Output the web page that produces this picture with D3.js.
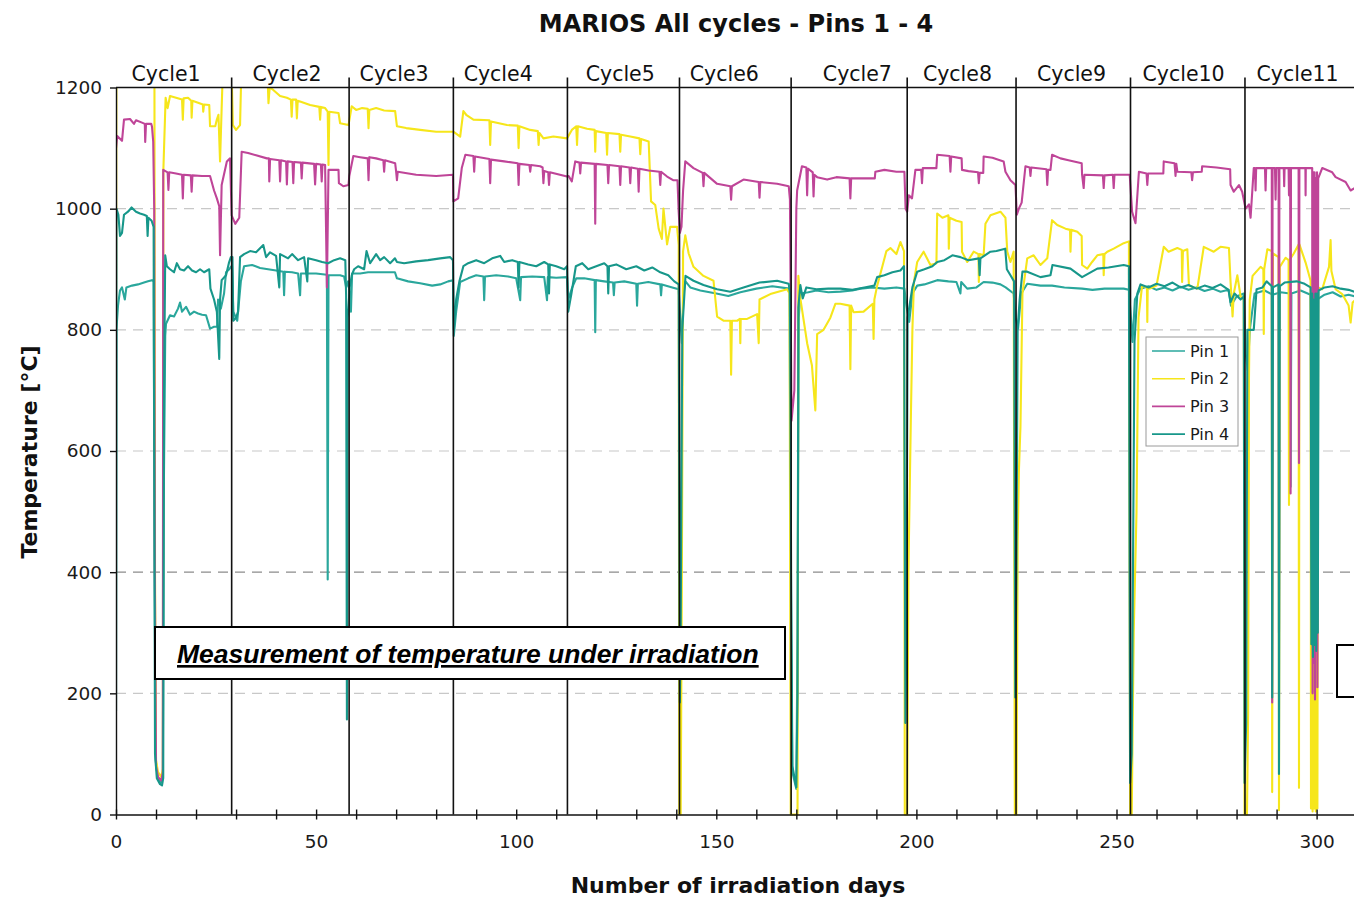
<!DOCTYPE html>
<html>
<head>
<meta charset="utf-8">
<script src="https://cdn.jsdelivr.net/npm/d3@7"></script>
<style>
  html, body { margin: 0; padding: 0; background: #fff; }
  svg { display: block; }
</style>
</head>
<body>
<div id="chart"></div>
<script>
/////////////////////////////////////////
//////////////// DATA ///////////////////
/////////////////////////////////////////

// [irradiation day, temperature °C]
const pin1Data = [
[0,170],[0.1,800],[0.5,840],[1.0,865],[1.5,870],[2.2,850],[2.6,870],[4.0,873],[5.5,875],[7.0,878],[8.0,880],[9.0,882],[9.4,880],
[9.6,500],[9.9,90],[10.5,58],[11.2,52],[11.7,65],[11.9,500],[12.3,790],
[12.5,810],[13.5,824],[14.5,822],[15.5,835],[16.0,845],[16.5,830],[17.5,838],[18.5,825],[19.5,830],[20.5,827],[21.5,825],[22.5,824],[23.5,802],[24.5,805],[25.3,805],[25.5,850],[26.2,835],[27.0,860],[27.5,895],[28.3,900],[28.8,905],
[29.0,905],[29.3,830],[30.3,815],[31.2,880],[32.0,905],[34.0,907],[36.0,902],[38.0,900],[40.0,898],[41.8,896],[42.0,857],[42.2,896],[44.0,895],[45.5,893],[46.0,857],[46.2,893],[48.0,893],[50.0,893],[52.7,891],[52.9,388],[53.1,890],[54.0,890],[56.0,890],[57.0,888],[57.5,870],[58.0,880],
[58.4,860],[58.7,830],[59.0,893],[61.0,893],[63.0,895],[65.0,895],[67.0,895],[69.7,895],[70.2,885],[73.0,880],[76.0,877],[79.0,873],[81.0,875],[83.0,880],[84.2,882],
[84.4,790],[85.0,830],[86.0,879],[88.0,885],[90.0,890],[91.8,888],[92.0,849],[92.2,888],[95.0,890],[98.0,888],[100.0,885],[101.0,849],[101.2,887],[104.0,888],[107.0,887],[107.7,849],[107.9,887],[110.0,886],[112.7,887],
[113.0,850],[114.0,870],[115.0,885],[117.0,885],[119.6,882],[119.75,796],[119.9,882],[122.0,880],[124.2,878],[124.4,857],[124.6,878],[127.0,880],[130.0,876],[130.2,840],[130.4,876],[133.0,879],[136.0,875],[136.2,857],[136.4,875],[139.0,870],[140.6,867],[141.0,820],[141.4,778],[141.8,860],
[142.3,880],[143.5,870],[146.0,865],[150.0,860],[153.0,856],[156.0,862],[160.0,868],[164.0,872],[168.3,868],
[168.7,300],[169.0,70],[170.0,42],[170.3,300],[170.6,820],[171.0,860],[173.0,862],[175.0,865],[178.0,862],[181.0,863],[184.0,865],[186.0,868],[189.0,870],[192.0,868],[195.0,870],[197.0,868],
[197.5,840],[198.2,813],[199.0,860],[200.2,873],[202.0,875],[205.2,882],[208.0,880],[210.0,879],[211.0,860],[211.2,879],[212.7,868],[215.0,870],[216.8,879],[219.0,878],[221.0,875],[222.3,870],[224.3,860],
[224.8,820],[225.4,802],[226.2,860],[227.7,876],[231.0,873],[233.9,873],[237.0,870],[241.4,868],[244.0,866],[247.0,868],[251.8,868],[253.1,866],
[253.6,820],[254.0,780],[254.6,850],[256.0,868],[258.0,872],[260.0,866],[262.0,870],[264.0,865],[266.0,871],[268.0,866],[270.0,870],[272.0,864],[274.0,868],[276.0,863],[278.0,866],[278.6,840],[280.0,855],[281.8,860],
[282.3,760],[282.8,733],[283.3,800],[284.5,860],[287.0,865],[289.0,858],[291.0,862],[293.3,860],[293.5,541],[293.7,860],[296.0,865],[298.5,858],[299.0,420],[299.3,850],[299.8,380],[300.1,850],[302.0,858],[304.0,862],[306.0,855],[308.0,858],[309.8,855]
];

const pin2Data = [
[0,800],[0.1,1250],[9.6,1250],[9.75,400],[10.0,90],[10.5,70],[11.3,62],[11.7,75],[11.85,1067],[12.4,1183],[12.9,1166],[13.5,1186],[15.0,1183],[16.5,1180],[16.7,1147],[16.9,1182],[18.0,1183],[18.8,1178],[18.9,1150],[19.1,1178],[20.5,1175],[21.7,1172],[21.8,1160],[22.0,1172],[23.3,1171],[23.5,1136],[24.8,1136],[25.2,1147],[25.6,1155],[26.0,1078],[26.4,1166],[26.8,1250],[28.8,1250],
[29.2,1138],[30.0,1130],[31.0,1138],[31.4,1250],[37.7,1250],[38.1,1174],[38.4,1200],[39.3,1196],[41.0,1186],[42.7,1183],[43.7,1180],[43.9,1152],[44.1,1180],[45.0,1180],[45.2,1149],[45.4,1178],[46.0,1177],[48.5,1171],[50.8,1168],[51.0,1147],[51.2,1168],[52.25,1166],[52.9,1160],[53.1,1072],[53.3,1160],[55.6,1158],[56.0,1141],[58.1,1138],
[58.9,1169],[60.0,1163],[61.5,1166],[62.9,1165],[63.1,1133],[63.3,1163],[65.0,1166],[67.0,1162],[69.75,1161],[70.2,1136],[72.5,1133],[76.0,1130],[80.0,1127],[84.3,1127],
[86.0,1119],[86.8,1161],[87.5,1155],[89.3,1147],[93.3,1146],[93.5,1105],[93.7,1144],[97.7,1138],[100.4,1137],[100.6,1100],[100.8,1136],[103.5,1130],[105.4,1128],[105.6,1105],[105.8,1125],[106.8,1116],[109.3,1119],[112.7,1116],
[113.9,1130],[115.0,1136],[115.2,1105],[115.4,1136],[117.7,1132],[119.6,1130],[119.75,1094],[119.9,1128],[122.5,1125],[122.7,1089],[122.9,1125],[125.8,1123],[126.0,1094],[126.2,1122],[128.5,1119],[130.8,1116],[131.0,1090],[131.2,1115],[133.1,1111],[133.7,1012],[134.75,1006],[135.6,967],[136.4,950],[136.8,1000],[137.7,941],[138.5,970],[140.2,970],[140.6,940],
[140.75,0],[141.1,0],[141.4,400],[141.7,930],[142.25,956],[143.1,926],[144.3,904],[146.8,889],[149.3,881],[150.2,822],[151.8,815],[153.5,815],[153.7,726],[153.9,815],[155.2,815],[155.9,818],[156.0,778],[156.1,818],[157.7,818],[160.2,826],[160.6,778],[160.8,850],[163.5,859],[167.7,867],[168.3,860],
[168.6,0],[170.3,0],[170.5,889],[171.0,852],[172.7,778],[173.9,741],[174.75,667],[175.2,793],[176.8,800],[178.5,820],[179.75,843],[181.0,843],[183.3,840],[183.5,735],[183.7,840],[184.3,829],[186.8,830],[189.1,843],[189.3,785],[189.5,850],[190.2,873],[191.5,905],[192.5,930],[193.5,935],[195.0,925],[196.0,945],[196.9,930],
[197.1,0],[197.7,0],[198.0,400],[198.6,648],[199.0,800],[199.4,880],[200.2,912],[201.8,929],[203.5,907],[205.0,910],[205.2,992],[206.5,985],[208.0,989],[208.1,934],[208.3,985],[210.0,980],[211.3,978],[211.4,929],[212.7,912],[214.3,929],[215.5,925],[215.6,879],[215.8,925],[216.8,923],[217.25,975],[218.5,989],[221.0,995],[222.25,985],[222.7,929],[223.5,912],[224.3,929],
[224.6,0],[225.0,0],[225.3,450],[225.6,565],[226.0,640],[226.5,860],[227.7,918],[229.3,923],[231.0,907],[232.7,918],[233.9,981],[235.2,973],[237.25,967],[238.4,965],[238.5,929],[238.7,965],[240.2,962],[241.3,955],[241.4,907],[242.7,901],[243.9,912],[245.2,923],[246.7,925],[246.8,890],[247.0,925],[247.7,929],[249.3,934],[251.8,943],[253.1,946],
[253.4,0],[253.8,0],[254.3,300],[255.0,499],[255.5,820],[256.4,873],[257.6,870],[257.7,813],[257.8,870],[258.3,868],[260.0,873],[261.8,937],[263.0,929],[265.2,935],[266.3,932],[266.4,879],[266.6,930],[267.7,933],[268.1,873],[270.2,868],[271.8,937],[274.3,929],[276.0,937],[278.1,935],[278.5,879],[279.0,822],[279.3,860],[280.2,890],[281.0,855],[281.8,850],
[282.0,0],[282.6,0],[282.9,170],[283.1,719],[283.3,850],[284.0,889],[286.0,904],[286.7,900],[286.8,793],[286.9,900],[287.7,933],[288.8,930],[288.9,37],[289.1,926],[290.5,920],[290.6,7],[290.8,904],[292.25,919],[293.0,915],[293.1,511],[293.2,915],[294.3,926],[295.5,941],[295.6,44],[295.7,941],[297.25,911],[298.5,881],[298.6,10],[298.8,860],[299.0,5],[299.2,850],[299.4,10],[299.6,860],[299.8,5],[300.0,850],[300.2,10],[300.4,870],[301.4,867],[303.1,904],[303.5,948],[303.7,897],[304.75,867],[306.4,859],[308.0,840],[308.5,812],[309.0,845],[309.8,850]
];

const pin3Data = [
[0,1100],[0.3,1120],[1.5,1112],[2.0,1147],[3.5,1148],[4.5,1140],[5.0,1146],[6.5,1142],[7.2,1140],[7.3,1110],[7.5,1140],[8.8,1140],[9.0,1135],[9.3,1110],[9.55,1000],[9.7,400],[10.0,80],[10.5,62],[11.3,56],[11.7,70],
[11.8,1064],[12.9,1060],[13.1,1031],[13.3,1060],[15.0,1058],[16.5,1056],[16.7,1017],[16.9,1056],[18.7,1055],[18.9,1028],[19.1,1055],[21.5,1054],[23.5,1054],[24.5,1030],[25.2,1017],[25.8,1004],[26.0,923],[26.4,1039],[27.7,1078],[28.5,1083],
[28.9,989],[29.8,975],[30.8,985],[31.4,1094],[33.0,1092],[35.0,1088],[37.7,1083],[38.2,1083],[38.3,1045],[38.5,1082],[40.8,1080],[41.0,1045],[41.2,1080],[42.5,1078],[42.7,1040],[42.9,1078],[44.1,1077],[44.3,1042],[44.5,1077],[46.2,1076],[46.4,1050],[46.6,1076],[49.5,1074],[49.75,1040],[50.0,1074],[51.2,1073],[51.4,1045],[51.6,1073],[52.25,1072],[52.7,870],[53.1,1064],[55.6,1064],[55.7,1042],[56.8,1037],[58.1,1039],
[58.3,1054],[59.3,1087],[61.0,1085],[62.9,1083],[63.1,1047],[63.3,1085],[65.0,1083],[66.8,1080],[67.0,1061],[67.2,1080],[69.75,1075],[70.0,1061],[70.2,1047],[70.4,1061],[75.0,1056],[80.0,1054],[84.2,1056],
[84.3,1012],[85.5,1017],[86.4,1067],[87.3,1089],[89.3,1087],[89.5,1061],[89.7,1086],[93.3,1082],[93.5,1042],[93.7,1081],[97.0,1078],[100.4,1075],[100.6,1039],[100.8,1074],[103.3,1072],[103.5,1061],[103.7,1072],[106.0,1070],[106.6,1068],[106.8,1042],[107.0,1062],[108.0,1060],[108.2,1039],[108.4,1060],[112.7,1053],
[113.1,1054],[113.9,1045],[114.75,1078],[115.8,1076],[116.0,1058],[116.2,1076],[119.6,1074],[119.75,975],[119.9,1074],[122.8,1072],[123.0,1042],[123.2,1072],[125.8,1070],[126.0,1039],[126.2,1070],[128.3,1068],[128.5,1042],[128.7,1068],[130.4,1066],[130.6,1028],[130.8,1066],[133.1,1063],[135.8,1061],[136.0,1039],[136.2,1061],[137.7,1053],[139.2,1047],[140.3,1047],[140.6,995],[140.9,960],[141.3,970],[141.7,1030],
[142.25,1078],[144.3,1067],[146.6,1059],[146.8,1037],[147.0,1059],[150.2,1041],[153.5,1037],[153.7,1015],[153.9,1037],[156.8,1048],[160.6,1044],[160.8,1018],[161.0,1044],[165.2,1041],[168.1,1037],[168.4,1015],[168.8,650],[169.5,700],[170.0,1000],[170.2,1030],
[171.4,1070],[172.5,1068],[172.7,1022],[172.9,1066],[174.1,1060],[174.3,1020],[174.5,1056],[175.2,1052],[177.7,1048],[180.0,1052],[183.3,1050],[183.5,1017],[183.7,1050],[186.0,1050],[189.6,1050],[189.75,1061],[192.0,1064],[195.0,1061],[197.0,1061],[197.3,1000],[197.7,995],[198.1,1022],[198.9,1017],[199.75,1064],
[201.2,1064],[201.4,1042],[201.6,1067],[205.0,1067],[205.2,1089],[208.3,1087],[208.5,1061],[208.7,1086],[211.3,1083],[211.4,1064],[213.0,1062],[215.4,1060],[215.6,1042],[215.8,1059],[216.7,1059],[216.8,1086],[219.0,1084],[221.8,1078],[222.25,1061],[223.5,1047],[224.75,1039],[225.1,990],[225.6,1000],[226.3,1010],
[227.25,1070],[228.3,1068],[228.5,1054],[228.7,1068],[232.5,1065],[232.7,1039],[232.9,1064],[233.5,1064],[233.9,1089],[236.0,1083],[238.0,1080],[241.3,1075],[241.4,1056],[241.8,1034],[242.0,1056],[246.6,1055],[246.8,1034],[247.0,1055],[249.1,1056],[249.3,1034],[249.5,1056],[253.3,1056],
[253.9,995],[254.75,976],[255.6,1061],[257.5,1058],[257.7,1039],[257.9,1058],[261.7,1058],[261.8,1078],[264.5,1075],[264.75,1054],[264.95,1074],[265.2,1061],[268.7,1060],[268.9,1047],[269.1,1060],[271.3,1061],[271.4,1070],[275.0,1068],[278.4,1065],[278.5,1039],[279.3,1028],[280.6,1039],[281.4,1028],[282.25,1000],[283.1,1007],[283.5,985],[284.3,1067],
[284.6,1067],[284.75,1030],[284.9,1067],[287.1,1067],[287.25,1030],[287.4,1067],[288.8,1067],[288.9,185],[289.0,1067],[289.6,1067],[289.75,1015],[289.9,1067],[290.5,1067],[290.6,300],[290.7,1067],[291.8,1067],[291.9,1037],[292.0,1067],[293.0,1067],[293.1,1022],[293.2,1067],[293.4,1067],[293.5,530],[293.6,1067],[295.5,1067],[295.6,580],[295.7,1067],[297.2,1067],[297.25,1022],[297.3,1067],[298.9,1067],[299.0,200],[299.2,1060],[299.3,250],[299.5,1060],[299.6,190],[299.8,1050],[299.9,300],[300.1,1060],[300.2,210],[300.4,1050],[301.4,1067],[303.9,1060],[304.75,1052],[307.25,1044],[308.5,1030],[309.8,1035]
];

const pin4Data = [
[0,170],[0.1,1000],[0.6,990],[1.0,955],[1.5,960],[2.0,990],[3.0,995],[3.9,1002],[5.0,995],[6.0,992],[7.0,990],[7.7,988],[7.9,955],[8.1,985],[8.9,980],[9.4,970],
[9.55,600],[9.75,100],[10.2,60],[11.0,50],[11.5,48],[11.8,60],[12.0,700],[12.3,923],
[12.7,905],[13.5,900],[14.5,895],[15.2,910],[16.0,900],[17.0,898],[18.0,905],[19.0,898],[20.0,895],[21.0,900],[22.0,895],[23.3,900],[23.6,868],[24.5,850],[25.2,830],[25.8,752],[26.0,850],[26.4,882],[27.5,890],[28.2,910],[28.7,920],
[29.1,920],[29.3,815],[30.0,820],[30.5,830],[31.0,920],[32.0,925],[33.5,930],[35.0,928],[36.8,940],[37.5,920],[38.5,928],[40.0,922],[40.8,870],[41.0,925],[43.0,918],[44.0,925],[45.5,915],[47.0,920],[47.8,880],[48.0,918],[50.0,915],[51.5,912],[53.0,910],[54.5,915],[56.0,918],[57.3,915],[57.5,857],[57.7,157],[57.9,820],[58.4,870],
[58.9,890],[59.5,900],[60.5,905],[62.0,900],[62.6,930],[63.5,910],[65.0,925],[66.0,915],[67.0,920],[68.5,910],[69.7,918],[70.2,912],[72.0,910],[75.0,913],[78.0,915],[81.0,918],[83.5,920],[84.2,915],
[84.4,800],[85.0,850],[85.8,880],[86.8,905],[88.0,910],[90.0,915],[92.0,910],[94.0,918],[96.0,922],[97.0,912],[99.0,915],[100.4,912],[100.6,870],[100.8,912],[103.0,908],[105.0,905],[107.0,912],[108.0,908],[108.2,860],[108.4,908],[110.0,905],[112.0,900],[112.7,905],
[113.0,830],[113.8,860],[114.9,905],[116.5,910],[118.0,900],[120.0,905],[122.0,910],[122.8,905],[123.0,860],[123.2,905],[125.0,908],[127.5,900],[130.0,905],[132.0,898],[134.0,903],[136.0,895],[138.0,890],[139.5,880],[140.6,875],
[140.9,185],[141.1,300],[141.5,800],[142.3,889],[144.3,881],[146.8,874],[150.2,867],[153.5,863],[156.8,870],[160.8,878],[165.2,881],[168.1,876],[168.4,860],
[168.7,400],[169.0,80],[170.0,45],[170.3,200],[170.5,837],[171.0,874],[171.6,852],[172.5,870],[175.0,867],[178.0,868],[181.0,868],[184.0,866],[187.0,870],[189.5,873],[190.2,887],[192.0,890],[194.0,895],[196.0,898],[196.9,905],
[197.25,151],[197.5,300],[197.8,820],[199.0,870],[200.2,896],[202.0,900],[204.0,905],[205.2,912],[207.0,915],[209.0,923],[211.0,920],[213.0,915],[215.6,918],[215.8,890],[216.0,918],[218.5,929],[220.0,930],[222.2,934],[222.6,900],[223.5,890],[224.4,880],
[224.7,193],[225.0,400],[225.3,802],[225.8,850],[226.5,896],[227.7,896],[231.0,887],[233.5,890],[234.0,907],[238.5,901],[241.4,887],[245.2,901],[248.0,903],[251.8,907],[253.1,905],
[253.4,52],[253.8,100],[254.5,780],[255.2,860],[256.0,875],[258.0,870],[260.0,876],[262.0,872],[264.0,878],[266.0,870],[268.0,874],[270.0,868],[272.0,873],[274.0,869],[276.0,875],[278.0,866],[278.5,846],[279.5,860],[281.0,850],[281.8,855],
[282.0,52],[282.4,150],[282.7,800],[284.3,800],[285.0,867],[286.5,870],[287.5,880],[288.8,872],[288.9,193],[289.1,870],[290.5,875],[290.6,67],[290.8,872],[292.0,878],[295.0,880],[297.0,876],[298.5,870],[298.7,281],[298.9,860],[299.1,260],[299.3,850],[299.5,280],[299.7,860],[299.9,270],[300.1,860],[300.3,300],[300.5,865],[302.0,870],[304.0,872],[306.0,868],[308.0,866],[309.8,862]
];

const pinNames = ["Pin 1", "Pin 2", "Pin 3", "Pin 4"];
const pinSeries = [pin1Data, pin2Data, pin3Data, pin4Data];

// cycle separators (day) and label centres (day)
const cycleBounds = [28.9, 58.25, 84.3, 112.8, 140.8, 168.7, 197.7, 224.9, 253.5, 282.1];
const cycleNames = ["Cycle1","Cycle2","Cycle3","Cycle4","Cycle5","Cycle6","Cycle7","Cycle8","Cycle9","Cycle10","Cycle11"];
const cycleLabelDays = [12.5, 42.75, 69.5, 95.5, 126, 152, 185.25, 210.25, 238.75, 266.75, 295.25];

const yTicks = [0, 200, 400, 600, 800, 1000, 1200];
const yGrid = [200, 400, 600, 800, 1000];
const xLabelTicks = [0, 50, 100, 150, 200, 250, 300];

/////////////////////////////////////////
/////////////// COLORS //////////////////
/////////////////////////////////////////

const COLORS = {
    pins: ["#2aa79c", "#f6e61b", "#bf4598", "#17978a"],
    grid: "#c8c8c8",
    gridDark: "#8c8c8c",
    ink: "#111111"
};

const FONT = "'DejaVu Sans', sans-serif";

/////////////////////////////////////////
////////////// SVG & SCALES /////////////
/////////////////////////////////////////

const WIDTH = 1354, HEIGHT = 898;
const PX_PER_DAY = 4.002;
const LEFT = 116, TOP = 87.5, BOTTOM = 814.5;

const svg = d3.select("#chart").append("svg")
    .attr("width", WIDTH)
    .attr("height", HEIGHT)
    .style("font-family", FONT);

const x = d3.scaleLinear().domain([0, 310]).range([LEFT, LEFT + 310 * PX_PER_DAY]);
const y = d3.scaleLinear().domain([0, 1200]).range([BOTTOM, TOP]);

svg.append("defs").append("clipPath").attr("id", "plot-clip")
  .append("rect")
    .attr("x", LEFT).attr("y", TOP)
    .attr("width", WIDTH - LEFT).attr("height", BOTTOM - TOP + 1.5);

//grid
svg.append("g").selectAll("line")
  .data(yGrid)
  .join("line")
    .attr("x1", LEFT).attr("x2", WIDTH)
    .attr("y1", d => y(d)).attr("y2", d => y(d))
    .attr("stroke", d => d === 400 ? COLORS.gridDark : COLORS.grid)
    .attr("stroke-width", 1.2)
    .attr("stroke-dasharray", "10,7");

/////////////////////////////////////////
//////////////// LINES //////////////////
/////////////////////////////////////////

const line = d3.line()
    .x(d => x(d[0]))
    .y(d => y(d[1]));

svg.append("g")
    .attr("clip-path", "url(#plot-clip)")
  .selectAll("path")
  .data(pinSeries)
  .join("path")
    .attr("d", line)
    .attr("fill", "none")
    .attr("stroke", (d, i) => COLORS.pins[i])
    .attr("stroke-width", 2.1)
    .attr("stroke-linejoin", "round");

//cycle separators
svg.append("g").selectAll("line")
  .data(cycleBounds)
  .join("line")
    .attr("x1", d => x(d)).attr("x2", d => x(d))
    .attr("y1", TOP - 10).attr("y2", BOTTOM)
    .attr("stroke", COLORS.ink)
    .attr("stroke-width", 1.6);

svg.append("g").selectAll("text")
  .data(cycleNames)
  .join("text")
    .attr("x", (d, i) => x(cycleLabelDays[i]))
    .attr("y", 81)
    .attr("text-anchor", "middle")
    .attr("font-size", 20.5)
    .attr("fill", COLORS.ink)
    .text(d => d);

//top frame
svg.append("line")
    .attr("x1", LEFT).attr("x2", WIDTH)
    .attr("y1", TOP).attr("y2", TOP)
    .attr("stroke", COLORS.ink).attr("stroke-width", 1.4);

/////////////////////////////////////////
//////////////// AXES ///////////////////
/////////////////////////////////////////

const yAxis = svg.append("g")
    .attr("transform", `translate(${LEFT},0)`)
    .call(d3.axisLeft(y).tickValues(yTicks).tickFormat(d3.format("d"))
        .tickSize(6).tickSizeOuter(0).tickPadding(8));

const xAxis = svg.append("g")
    .attr("transform", `translate(0,${BOTTOM})`)
    .call(d3.axisBottom(x)
        .tickValues(d3.range(0, 311, 10))
        .tickFormat(d => xLabelTicks.includes(d) ? d : "")
        .tickSize(5).tickSizeOuter(0).tickPadding(15));

xAxis.selectAll(".tick line").attr("y1", -5);

[xAxis, yAxis].forEach(a => {
    a.selectAll("text")
        .attr("font-family", FONT)
        .attr("font-size", 18.5)
        .attr("fill", "#1a1a1a");
    a.selectAll("line, path")
        .attr("stroke", COLORS.ink)
        .attr("stroke-width", 1.4);
});

//titles
svg.append("text")
    .attr("x", 736).attr("y", 32)
    .attr("text-anchor", "middle")
    .attr("font-size", 24).attr("font-weight", "bold")
    .attr("fill", COLORS.ink)
    .text("MARIOS All cycles - Pins 1 - 4");

svg.append("text")
    .attr("x", 738).attr("y", 893)
    .attr("text-anchor", "middle")
    .attr("font-size", 22).attr("font-weight", "bold")
    .attr("fill", COLORS.ink)
    .text("Number of irradiation days");

svg.append("text")
    .attr("transform", "translate(37,452) rotate(-90)")
    .attr("text-anchor", "middle")
    .attr("font-size", 22).attr("font-weight", "bold")
    .attr("fill", COLORS.ink)
    .text("Temperature [°C]");

/////////////////////////////////////////
//////////////// LEGEND /////////////////
/////////////////////////////////////////

const legend = svg.append("g").attr("transform", "translate(1146,337)");

legend.append("rect")
    .attr("width", 92).attr("height", 109)
    .attr("fill", "#fff")
    .attr("stroke", "#9a9a9a").attr("stroke-width", 1);

const item = legend.selectAll("g")
  .data(pinNames)
  .join("g")
    .attr("transform", (d, i) => `translate(0,${14 + i * 27.7})`);

item.append("line")
    .attr("x1", 6).attr("x2", 39)
    .attr("stroke", (d, i) => COLORS.pins[i])
    .attr("stroke-width", 1.6);

item.append("text")
    .attr("x", 44).attr("dy", "0.36em")
    .attr("font-size", 16)
    .attr("fill", "#1a1a1a")
    .text(d => d);

/////////////////////////////////////////
///////////// ANNOTATIONS ///////////////
/////////////////////////////////////////

svg.append("rect")
    .attr("x", 155).attr("y", 627)
    .attr("width", 630).attr("height", 52)
    .attr("fill", "#fff")
    .attr("stroke", "#000").attr("stroke-width", 2);

svg.append("text")
    .attr("x", 177).attr("y", 663)
    .attr("font-family", "'Liberation Sans', Arial, sans-serif")
    .attr("font-size", 26.5)
    .attr("font-weight", "bold")
    .attr("font-style", "italic")
    .attr("text-decoration", "underline")
    .attr("fill", "#000")
    .text("Measurement of temperature under irradiation");

//second box, cut by the right edge
svg.append("rect")
    .attr("x", 1337).attr("y", 645)
    .attr("width", 40).attr("height", 52)
    .attr("fill", "#fff")
    .attr("stroke", "#000").attr("stroke-width", 2);
</script>
</body>
</html>
